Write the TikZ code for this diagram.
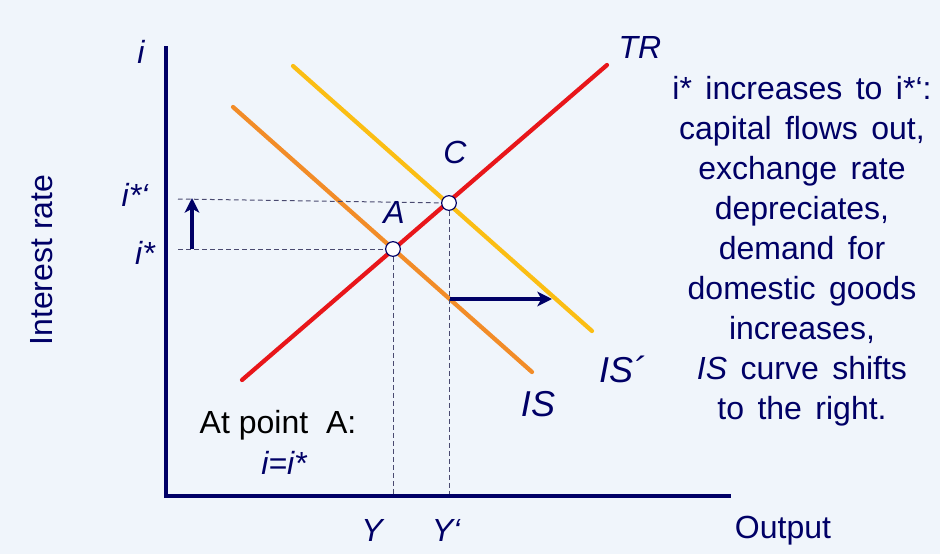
\documentclass[tikz,border=0pt]{standalone}
\usepackage{fontspec}
\setmainfont{Liberation Sans}
\usetikzlibrary{arrows.meta,positioning}
\definecolor{EBack}{HTML}{F0F5FB}
\definecolor{ENavy}{HTML}{000066}
\definecolor{ERed}{HTML}{E8161A}
\definecolor{EOrange}{HTML}{F28C28}
\definecolor{EGold}{HTML}{FBBE14}
\definecolor{EDash}{HTML}{4A4A70}

\begin{document}
\begin{tikzpicture}[
  x=0.75pt,y=-0.75pt,
  every node/.style={font=\fontsize{24}{30}\selectfont,text=ENavy,inner sep=0pt},
  lbl/.style={font=\fontsize{24}{30}\selectfont\itshape},
  biglbl/.style={font=\fontsize{27}{30}\selectfont\itshape},
  axis/.style={draw=ENavy,line width=3pt},
  curve/.style={line width=3.2pt,line cap=round},
  guide/.style={draw=EDash,line width=0.75pt,dash pattern=on 3.5pt off 2.5pt},
  eqpt/.style={circle,draw=ENavy,fill=white,line width=0.9pt,minimum size=11pt},
  movearr/.style={-{Stealth[length=11pt,width=11pt,inset=3pt]},draw=ENavy,line width=2.4pt}
]
  \useasboundingbox (0,0) rectangle (940,554);
  \fill[EBack] (0,0) rectangle (940,554);

  % IS, IS' and TR
  \coordinate (is0) at (233,107);  \coordinate (is1) at (532,372);
  \coordinate (isp0) at (293,66);  \coordinate (isp1) at (592,331);
  \coordinate (tr0) at (242,380);  \coordinate (tr1) at (607,65);
  \draw[curve,EOrange] (is0) -- (is1);
  \draw[curve,EGold] (isp0) -- (isp1);
  \draw[curve,ERed] (tr0) -- (tr1);

  \node[eqpt] (A) at (393,249) {};
  \node[eqpt] (C) at (449,203) {};

  % guide lines
  \coordinate (origin) at (166,496);
  \coordinate (istar) at (178,249);
  \coordinate (istarp) at (178,199);
  \draw[guide] (istar) -- (A);
  \draw[guide] (istarp) -- (C);
  \draw[guide] (A) -- (A |- origin);
  \draw[guide] (C) -- (C |- origin);

  % axes
  \coordinate (ytop) at (166,46);
  \coordinate (xend) at (731,496);
  \draw[axis] (ytop) -- (origin) -- (xend);

  % shifts
  \coordinate (upfrom) at (192,249);  \coordinate (upto) at (192,198);
  \draw[movearr] (upfrom) -- (upto);
  \coordinate (rtfrom) at (450,299);  \coordinate (rtto) at (552,299);
  \draw[movearr] (rtfrom) -- (rtto);

  % labels
  \node[lbl] (ilbl) at (141,52) {i};
  \node[lbl] (trlbl) at (640,47) {TR};
  \node[lbl] (clbl) at (455,152) {C};
  \node[lbl] (albl) at (394,212) {A};
  \node[lbl] (istarplbl) at (135,195) {i*‘};
  \node[lbl] (istarlbl) at (145,253) {i*};
  \node[biglbl] (isplbl) at (622,369) {IS´};
  \node[biglbl] (islbl) at (538,404) {IS};
  \node[lbl] (ylbl) at (372,530) {Y};
  \node[lbl] (yplbl) at (446,530) {Y‘};
  \node (xlbl) at (783,531) {Output};
  \node[rotate=90] (vlbl) at (42,260) {Interest rate};
  \node[text=black] (atlbl) at (278,425) {At point\ \ A:};
  \node[lbl] (eqlbl) at (284,463) {i=i*};
  \node[text width=200pt,align=center] (story) at (802,251) {\spaceskip=0.42em\relax
    i* increases to i*‘:\\
    capital flows out,\\exchange rate\\depreciates,\\demand for\\
    domestic goods\\increases,\\\textit{IS} curve shifts\\to the right.};
\end{tikzpicture}
\end{document}
